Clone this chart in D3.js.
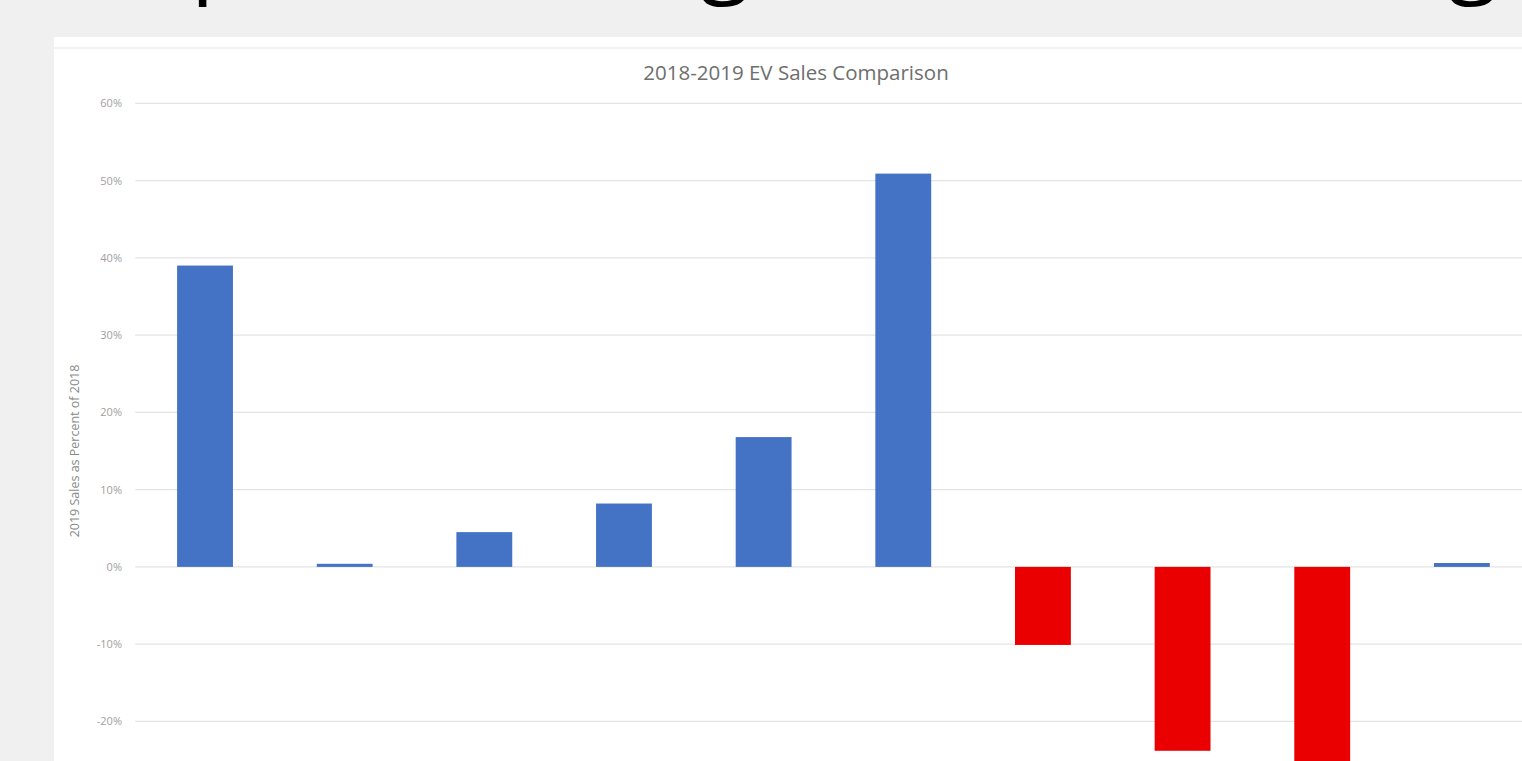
<!DOCTYPE html>
<html>
<head>
<meta charset="utf-8">
<script src="https://cdn.jsdelivr.net/npm/d3@7"></script>
<style>
  html, body { margin: 0; padding: 0; background: #f0f0f0; overflow: hidden; }
  svg { display: block; }
  .grid line { stroke: #e4e4e4; stroke-width: 1.2; }
  .tick-label { font-family: "Open Sans", sans-serif; font-size: 11px; fill: #a0a0a0; }
  .axis-label { font-family: "Open Sans", sans-serif; font-size: 12.5px; fill: #8a8a8a; }
  .title { font-family: "Open Sans", sans-serif; font-size: 20.5px; fill: #6e6e6e; }
  .heading { font-family: "Open Sans", sans-serif; font-size: 92px; fill: #000; }
</style>
</head>
<body>
<svg id="chart"></svg>
<script>
const categories = ['Model 1', 'Model 2', 'Model 3', 'Model 4', 'Model 5',
                    'Model 6', 'Model 7', 'Model 8', 'Model 9', 'Model 10'];
const pctChange  = [39.0, 0.4, 4.5, 8.2, 16.8, 50.9, -10.1, -23.8, -27.0, 0.5];
const yTicks     = [-30, -20, -10, 0, 10, 20, 30, 40, 50, 60];

const totalW = 1522, totalH = 761;
const svg = d3.select('#chart').attr('width', totalW).attr('height', totalH);

// slide heading, mostly cut off above the viewport
const headGlyphs = [{ ch: 'p', x: 191 }, { ch: 'g', x: 700 }, { ch: 'g', x: 1448 }];
svg.selectAll('.heading').data(headGlyphs).enter().append('text')
  .attr('class', 'heading').attr('x', (d) => d.x).attr('y', -15).text((d) => d.ch);

// white chart panel
svg.append('rect').attr('x', 54).attr('y', 37).attr('width', totalW - 54).attr('height', totalH - 37)
  .attr('fill', '#fff');
svg.append('line').attr('x1', 54).attr('x2', totalW).attr('y1', 48).attr('y2', 48)
  .attr('stroke', '#f2f2f2').attr('stroke-width', 2);

const mg = { left: 135.2, top: 103.3 };
const bandStep = 139.65;
const x = d3.scaleBand().domain(categories)
  .range([mg.left, mg.left + bandStep * categories.length]).paddingInner(0.6).paddingOuter(0.3);
const y = d3.scaleLinear().domain([-30, 60]).range([566.7 + 3 * 77.33, mg.top]);

const g = svg.append('g');

g.append('g').attr('class', 'grid').selectAll('line').data(yTicks).enter().append('line')
  .attr('x1', mg.left).attr('x2', totalW).attr('y1', (d) => y(d)).attr('y2', (d) => y(d));

g.selectAll('.tick-label').data(yTicks).enter().append('text')
  .attr('class', 'tick-label').attr('x', 122).attr('y', (d) => y(d) + 4)
  .attr('text-anchor', 'end').text((d) => d + '%');

g.append('text').attr('class', 'axis-label')
  .attr('transform', `translate(79,${(y(-30) + y(60)) / 2}) rotate(-90)`)
  .attr('text-anchor', 'middle').text('2019 Sales as Percent of 2018');

g.append('text').attr('class', 'title').attr('x', 796).attr('y', 80)
  .attr('text-anchor', 'middle').text('2018-2019 EV Sales Comparison');

g.selectAll('.bar').data(pctChange).enter().append('rect')
  .attr('class', 'bar')
  .attr('x', (d, i) => x(categories[i]))
  .attr('width', x.bandwidth())
  .attr('y', (d) => y(Math.max(0, d)))
  .attr('height', (d) => Math.abs(y(d) - y(0)))
  .attr('fill', (d) => (d < 0 ? '#ea0000' : '#4472c4'));
</script>
</body>
</html>
